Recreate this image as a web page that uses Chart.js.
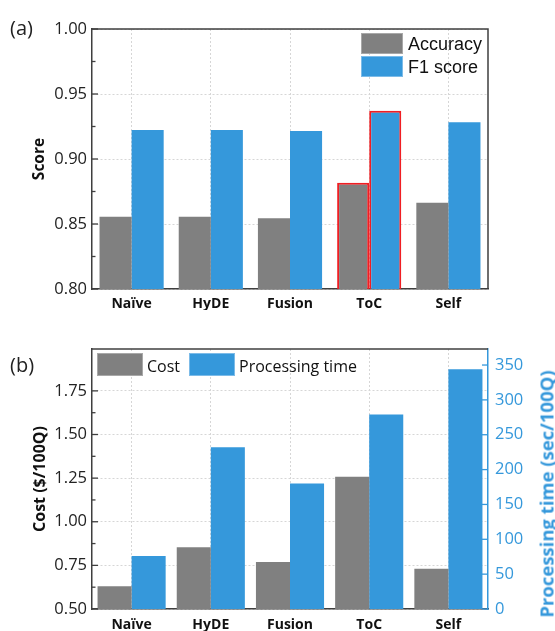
<!DOCTYPE html>
<html><head><meta charset="utf-8">
<script src="https://cdn.jsdelivr.net/npm/chart.js@4.4.0/dist/chart.umd.min.js"></script>
<style>
html,body{margin:0;padding:0;background:#fff;width:555px;height:631px;overflow:hidden;}
.wrap{position:absolute;left:0;}
.t{position:absolute;white-space:nowrap;line-height:1;}
.box{position:absolute;box-sizing:border-box;}
</style></head><body>
<div class="wrap" style="top:0;width:555px;height:310px"><canvas id="c1" width="555" height="310"></canvas></div>
<div class="wrap" style="top:310px;width:555px;height:321px"><canvas id="c2" width="555" height="321"></canvas></div>

<div class="t" style="left:10px;top:14px;font:20px 'Open Sans';color:#222">(a)</div>
<div class="t" style="left:10px;top:351px;font:20px 'Open Sans';color:#222">(b)</div>

<div class="box" style="left:361px;top:33px;width:42px;height:21px;background:#808080;border:1px solid #a8a8a8"></div>
<div class="t" style="left:408px;top:34px;font:18px 'Liberation Sans';color:#111">Accuracy</div>
<div class="box" style="left:361px;top:56px;width:42px;height:21px;background:#3598db;border:1px solid #7cbbe8"></div>
<div class="t" style="left:408px;top:57px;font:18px 'Liberation Sans';color:#111">F1 score</div>

<div class="box" style="left:97px;top:353px;width:46px;height:23px;background:#808080;border:1px solid #a8a8a8"></div>
<div class="t" style="left:147px;top:355px;font:16px 'Open Sans';color:#111">Cost</div>
<div class="box" style="left:189px;top:353px;width:46px;height:23px;background:#3598db;border:1px solid #7cbbe8"></div>
<div class="t" style="left:239px;top:355px;font:16px 'Open Sans';color:#111">Processing time</div>

<div class="t" style="left:546px;top:494px;transform:translate(-50%,-50%) rotate(-90deg);font:bold 18.5px 'Open Sans';color:#3598db">Processing time (sec/100Q)</div>

<script>
const categories = ['Naïve', 'HyDE', 'Fusion', 'ToC', 'Self'];
const accuracy = [0.8556, 0.8556, 0.8544, 0.8818, 0.8664];
const f1Score = [0.9223, 0.9223, 0.9215, 0.9372, 0.9282];
const cost = [0.630, 0.854, 0.770, 1.258, 0.730];
const processingTime = [76, 232, 180, 279, 344];
const scoreTicks = [0.80, 0.85, 0.90, 0.95, 1.00];
const costTicks = [0.50, 0.75, 1.00, 1.25, 1.50, 1.75];
const timeTicks = [0, 50, 100, 150, 200, 250, 300, 350];
const highlighted = 'ToC';

const GRAY = '#808080', BLUE = '#3598db', RED = '#f01e23', AXIS = '#3f3f3f', GRID = '#d6d6d6';
const tickFont = {family: 'Open Sans', size: 16.5};
const catFont = {family: 'Open Sans', size: 14, weight: 'bold'};

const hlColor = categories.map(c => c === highlighted ? RED : 'rgba(0,0,0,0)');
const hlWidth = categories.map(c => c === highlighted ? 2 : 0);

const framePlugin = {
  id: 'frameTicks',
  afterDatasetsDraw(chart, args, opts) {
    const ctx = chart.ctx, a = chart.chartArea;
    ctx.save();
    ctx.lineCap = 'butt';
    ctx.strokeStyle = AXIS; ctx.lineWidth = 1.5;
    ctx.beginPath();
    ctx.moveTo(a.left, a.top); ctx.lineTo(a.right, a.top);
    if (opts.right) ctx.lineTo(a.right, a.bottom);
    ctx.stroke();
    (opts.axes || []).forEach(ax => {
      const s = chart.scales[ax.id];
      const x0 = ax.side === 'left' ? s.right : s.left;
      const dir = ax.side === 'left' ? 1 : -1;
      ctx.strokeStyle = ax.color; ctx.lineWidth = 1.3;
      s.ticks.forEach((t, i) => {
        const y = s.getPixelForValue(t.value);
        ctx.beginPath(); ctx.moveTo(x0, y); ctx.lineTo(x0 + dir * ax.major, y); ctx.stroke();
        if (ax.minor && i < s.ticks.length - 1) {
          const ym = s.getPixelForValue((t.value + s.ticks[i + 1].value) / 2);
          ctx.beginPath(); ctx.moveTo(x0, ym); ctx.lineTo(x0 + dir * ax.minor, ym); ctx.stroke();
        }
      });
    });
    ctx.restore();
  }
};

function xAxis(h, pad) {
  return {
    type: 'category',
    grid: {display: true, offset: false, color: GRID, lineWidth: 1, drawTicks: false},
    border: {display: true, color: AXIS, width: 1.5, dash: [2, 2]},
    ticks: {font: catFont, color: '#111', padding: pad},
    afterFit: s => { s.height = h; }
  };
}

new Chart(document.getElementById('c1'), {
  type: 'bar',
  data: {
    labels: categories,
    datasets: [
      {label: 'Accuracy', data: accuracy, backgroundColor: GRAY, borderColor: hlColor, borderWidth: hlWidth, borderSkipped: false},
      {label: 'F1 score', data: f1Score, backgroundColor: BLUE, borderColor: hlColor, borderWidth: hlWidth, borderSkipped: false}
    ]
  },
  options: {
    responsive: false, animation: false,
    categoryPercentage: 0.81, barPercentage: 1.0,
    layout: {padding: {top: 29, right: 67, bottom: 0, left: 0}},
    plugins: {legend: {display: false}, tooltip: {enabled: false},
      frameTicks: {right: true, axes: [{id: 'y', side: 'left', color: AXIS, major: 6, minor: 3.5}]}},
    scales: {
      x: xAxis(21, 6.5),
      y: {
        min: 0.80, max: 1.00,
        afterBuildTicks: s => { s.ticks = scoreTicks.map(v => ({value: v})); },
        grid: {color: GRID, lineWidth: 1, drawTicks: false},
        border: {display: true, color: AXIS, width: 1.5, dash: [2, 2]},
        ticks: {font: tickFont, color: '#222', padding: 5, callback: v => Number(v).toFixed(2)},
        title: {display: true, text: 'Score', font: {family: 'Open Sans', size: 15.5, weight: 'bold', lineHeight: 1}, color: '#111', padding: {top: 32, bottom: 0}},
        afterFit: s => { s.width = 92; }
      }
    }
  },
  plugins: [framePlugin]
});

new Chart(document.getElementById('c2'), {
  type: 'bar',
  data: {
    labels: categories,
    datasets: [
      {label: 'Cost', data: cost, backgroundColor: GRAY, yAxisID: 'y'},
      {label: 'Processing time', data: processingTime, backgroundColor: BLUE, yAxisID: 'y1'}
    ]
  },
  options: {
    responsive: false, animation: false,
    categoryPercentage: 0.86, barPercentage: 1.0,
    layout: {padding: {top: 39, right: 0, bottom: 0, left: 0}},
    plugins: {legend: {display: false}, tooltip: {enabled: false},
      frameTicks: {right: false, axes: [
        {id: 'y', side: 'left', color: AXIS, major: 6, minor: 3.5},
        {id: 'y1', side: 'right', color: BLUE, major: 6, minor: 0}
      ]}},
    scales: {
      x: xAxis(22, 8),
      y: {
        position: 'left', min: 0.50, max: 1.99,
        afterBuildTicks: s => { s.ticks = costTicks.map(v => ({value: v})); },
        grid: {color: GRID, lineWidth: 1, drawTicks: false},
        border: {display: true, color: AXIS, width: 1.5, dash: [2, 2]},
        ticks: {font: tickFont, color: '#222', padding: 5, callback: v => Number(v).toFixed(2)},
        title: {display: true, text: 'Cost ($/100Q)', font: {family: 'Open Sans', size: 16, weight: 'bold', lineHeight: 1}, color: '#111', padding: {top: 32, bottom: 0}},
        afterFit: s => { s.width = 92; }
      },
      y1: {
        position: 'right', min: 0, max: 373,
        afterBuildTicks: s => { s.ticks = timeTicks.map(v => ({value: v})); },
        grid: {display: false, drawTicks: false},
        border: {display: true, color: BLUE, width: 1.5},
        ticks: {font: tickFont, color: BLUE, padding: 7},
        afterFit: s => { s.width = 67; }
      }
    }
  },
  plugins: [framePlugin]
});
</script>
</body></html>
